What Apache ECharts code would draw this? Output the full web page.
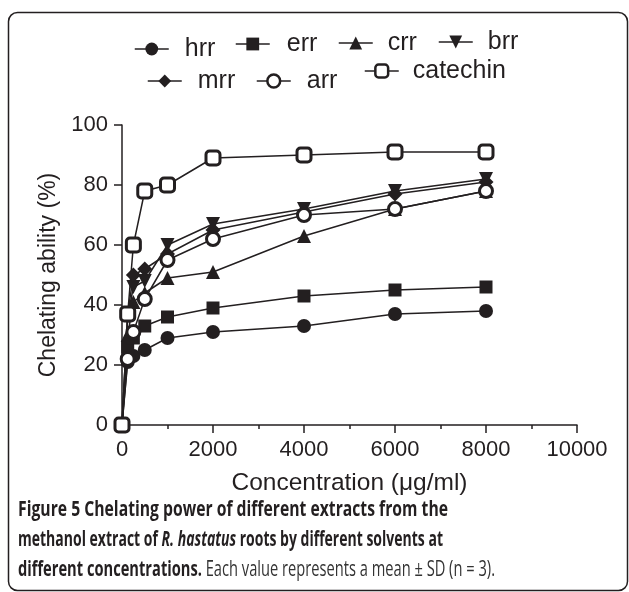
<!DOCTYPE html>
<html><head><meta charset="utf-8">
<script src="https://cdn.jsdelivr.net/npm/echarts@6/dist/echarts.min.js"></script>
<style>html,body{margin:0;padding:0;background:#fff}#c{width:629px;height:592px}</style>
</head><body><div id="c"></div>
<script>
// ---- data ----
const concentrations = [0, 125, 250, 500, 1000, 2000, 4000, 6000, 8000];
const hrr      = [0, 21, 23, 25, 29, 31, 33, 37, 38];
const err      = [0, 26, 29, 33, 36, 39, 43, 45, 46];
const crr      = [0, 30, 41, 44, 49, 51, 63, 72, 78];
const brr      = [0, 36, 46, 48, 60, 67, 72, 78, 82];
const mrr      = [0, 37, 50, 52, 57, 65, 71, 77, 81];
const arr      = [0, 22, 31, 42, 55, 62, 70, 72, 78];
const catechin = [0, 37, 60, 78, 80, 89, 90, 91, 91];
const seriesNames = ['hrr', 'err', 'crr', 'brr', 'mrr', 'arr', 'catechin'];
const xTitle = 'Concentration (μg/ml)';
const yTitle = 'Chelating ability (%)';

// ---- style ----
const INK = '#231f20';
const FONT = "'Liberation Sans', Arial, Helvetica, sans-serif";
const CAP_FONT = "'Open Sans', 'Noto Sans', sans-serif";

const seriesStyle = {
  hrr:      {symbol: 'circle', size: 14},
  err:      {symbol: 'rect', size: 13},
  crr:      {symbol: 'triangle', size: 14},
  brr:      {symbol: 'triangle', size: 14, rotate: 180},
  mrr:      {symbol: 'diamond', size: 15},
  arr:      {symbol: 'circle', size: 13, hollow: true},
  catechin: {symbol: 'roundRect', size: 14, hollow: true}
};
const seriesValues = {hrr, err, crr, brr, mrr, arr, catechin};

const series = seriesNames.map(name => {
  const s = seriesStyle[name];
  return {
    name, type: 'line',
    data: concentrations.map((c, i) => [c, seriesValues[name][i]]),
    symbol: s.symbol, symbolSize: s.size, symbolRotate: s.rotate || 0,
    showAllSymbol: true,
    color: INK,
    lineStyle: {color: INK, width: 1.5},
    itemStyle: s.hollow
      ? {color: '#fff', borderColor: INK, borderWidth: 3, opacity: 1}
      : {color: INK, borderColor: INK, borderWidth: 0, opacity: 1},
    emphasis: {disabled: true},
    animation: false
  };
});

// legend placement (icon left x, icon center y, gap to text)
const legendPos = {
  hrr: [134, 49, 11], err: [235, 44, 12], crr: [338, 43, 10], brr: [438, 42, 10],
  mrr: [147, 81, 11], arr: [256, 81, 11], catechin: [364, 71, 9]
};
const legends = seriesNames.map(name => ({
  data: [name], left: legendPos[name][0], top: legendPos[name][1] - 12.5,
  padding: 0, itemWidth: 34, itemHeight: 16, selectedMode: false,
  lineStyle: {color: INK, width: 1.5},
  itemStyle: seriesStyle[name].hollow ? {borderWidth: 2.5, borderColor: INK, color: '#fff'} : {},
  textStyle: {fontFamily: FONT, fontSize: 25, color: INK, padding: [0, 0, 0, legendPos[name][2]]}
}));

// caption
function measure(font, text) {
  const ctx = document.createElement('canvas').getContext('2d');
  ctx.font = font; return ctx.measureText(text).width;
}
const capSize = 21;
const capLines = [
  {parts: [['b', 'Figure 5 Chelating power of different extracts from the']], width: 430, y: 510},
  {parts: [['b', 'methanol extract of '], ['bi', 'R. hastatus'], ['b', ' roots by different solvents at']], width: 425, y: 540},
  {parts: [['b', 'different concentrations.'], ['r', ' Each value represents a mean ± SD (n = 3).']], width: 477, y: 570}
];
const fontFor = {b: 'bold ' + capSize + 'px ' + CAP_FONT, bi: 'italic bold ' + capSize + 'px ' + CAP_FONT, r: capSize + 'px ' + CAP_FONT};
const capGraphics = capLines.map(line => {
  const w = line.parts.reduce((a, p) => a + measure(fontFor[p[0]], p[1]), 0);
  return {
    type: 'text', x: 18, y: line.y, scaleX: line.width / w, originX: 0, silent: true,
    style: {
      text: line.parts.map(p => '{' + p[0] + '|' + p[1] + '}').join(''),
      verticalAlign: 'middle', align: 'left',
      rich: {
        b: {fontFamily: CAP_FONT, fontWeight: 'bold', fontSize: capSize, fill: INK, color: INK},
        bi: {fontFamily: CAP_FONT, fontWeight: 'bold', fontStyle: 'italic', fontSize: capSize, fill: INK, color: INK},
        r: {fontFamily: CAP_FONT, fontWeight: 'normal', fontSize: capSize, fill: '#333', color: '#333'}
      }
    }
  };
});

const chart = echarts.init(document.getElementById('c'), null, {renderer: 'canvas'});
chart.setOption({
  backgroundColor: '#fff',
  animation: false,
  grid: {left: 122, right: 52, top: 125, bottom: 167, containLabel: false},
  legend: legends,
  xAxis: {
    type: 'value', min: 0, max: 10000, interval: 2000,
    name: xTitle, nameLocation: 'middle', nameGap: 46,
    nameTextStyle: {fontFamily: FONT, fontSize: 24.5, color: INK},
    axisLine: {lineStyle: {color: INK, width: 1.5}},
    axisTick: {show: true, length: 8, lineStyle: {color: INK, width: 1.5}},
    minorTick: {show: true, splitNumber: 2, length: 4, lineStyle: {color: INK, width: 1.5}},
    axisLabel: {fontFamily: FONT, fontSize: 22, color: INK, margin: 14, formatter: v => String(v)},
    splitLine: {show: false}, minorSplitLine: {show: false}
  },
  yAxis: {
    type: 'value', min: 0, max: 100, interval: 20,
    name: yTitle, nameLocation: 'middle', nameGap: 62, nameRotate: 90,
    nameTextStyle: {fontFamily: FONT, fontSize: 23, color: INK},
    axisLine: {show: true, lineStyle: {color: INK, width: 1.5}},
    axisTick: {show: true, length: 8, lineStyle: {color: INK, width: 1.5}},
    axisLabel: {fontFamily: FONT, fontSize: 22, color: INK, margin: 14, formatter: v => String(v)},
    splitLine: {show: false}
  },
  series,
  graphic: [
    {type: 'rect', silent: true, shape: {x: 8.5, y: 12.5, width: 619, height: 578, r: 9},
     style: {fill: 'none', stroke: INK, lineWidth: 1.5}},
    ...capGraphics
  ]
});
</script></body></html>
